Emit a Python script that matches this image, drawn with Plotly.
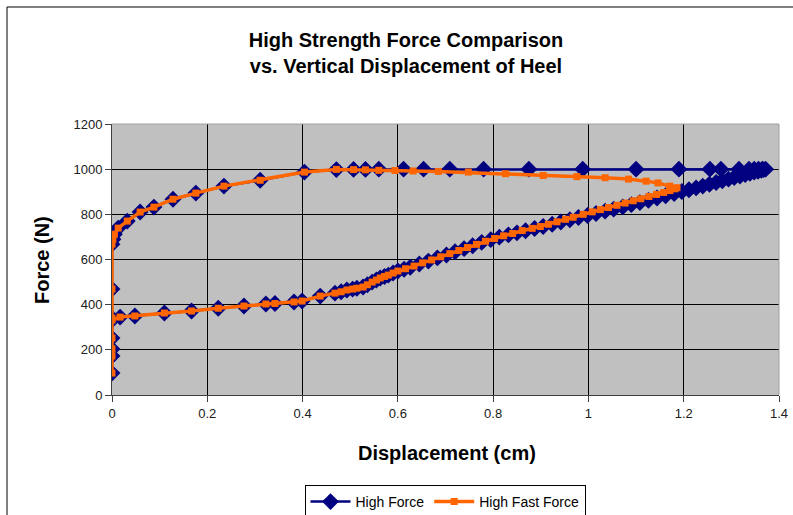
import plotly.graph_objects as go

# ---- Data ----
hf_x = [0, 0, 0, 0, 0,
        0.017, 0.048, 0.11, 0.167, 0.223, 0.277, 0.323, 0.342, 0.382, 0.399,
        0.437, 0.468, 0.481, 0.493, 0.505, 0.514, 0.527, 0.536, 0.546, 0.555,
        0.563, 0.572, 0.58, 0.59, 0.6, 0.613, 0.626, 0.645, 0.664, 0.683,
        0.702, 0.72, 0.739, 0.757, 0.776, 0.795, 0.813, 0.832, 0.85, 0.868,
        0.887, 0.905, 0.924, 0.942, 0.961, 0.979, 0.998, 1.016, 1.035, 1.053,
        1.072, 1.09, 1.108, 1.126, 1.144, 1.162, 1.18, 1.196, 1.211, 1.226,
        1.24, 1.254, 1.268, 1.281, 1.294, 1.306, 1.318, 1.329, 1.339, 1.348,
        1.356, 1.363, 1.368, 1.372,
        1.365, 1.357, 1.348, 1.337, 1.316, 1.278, 1.255, 1.19, 1.1, 0.988,
        0.875, 0.78, 0.709, 0.654, 0.612, 0.56, 0.532, 0.507, 0.471, 0.404,
        0.311, 0.235, 0.176, 0.128, 0.088, 0.059, 0.032, 0.013, 0.005, 0.002,
        0, 0, 0]
hf_y = [97, 173, 204, 252, 332,
        345, 350, 363, 372, 384, 394, 403, 405, 412, 416,
        438, 451, 457, 465, 469, 473, 478, 488, 500, 509,
        518, 525, 531, 540, 549, 557, 566, 580, 593, 607,
        620, 634, 648, 661, 676, 688, 699, 709, 718, 727,
        737, 746, 756, 766, 776, 786, 795, 804, 814, 823,
        833, 843, 852, 862, 872, 882, 892, 901, 909, 917,
        925, 933, 941, 949, 956, 963, 970, 976, 982, 987,
        991, 995, 998, 1000,
        1000, 1000, 1000, 1000, 1000, 1000, 1000, 1000, 1000, 1000,
        1000, 1000, 1000, 1000, 1000, 1000, 999, 999, 998, 987,
        951, 925, 894, 867, 832, 810, 770, 739, 712, 690,
        668, 469, 340]

hff_x = [0, 0, 0, 0, 0,
         0.017, 0.048, 0.11, 0.167, 0.223, 0.277, 0.323, 0.342, 0.382, 0.399,
         0.437, 0.468, 0.481, 0.493, 0.505, 0.514, 0.527, 0.536, 0.546, 0.555,
         0.563, 0.572, 0.58, 0.59, 0.6, 0.616, 0.634, 0.652, 0.671, 0.69,
         0.709, 0.728, 0.746, 0.765, 0.784, 0.803, 0.822, 0.841, 0.861, 0.882,
         0.899, 0.916, 0.934, 0.952, 0.968, 0.989, 1.008, 1.025, 1.042, 1.06,
         1.077, 1.094, 1.11, 1.127, 1.143, 1.158, 1.171, 1.182, 1.186,
         1.171, 1.146, 1.121, 1.084, 1.035, 0.976, 0.905, 0.826, 0.748, 0.685,
         0.632, 0.594, 0.56, 0.532, 0.507, 0.471, 0.404,
         0.311, 0.235, 0.176, 0.128, 0.088, 0.059, 0.032, 0.013, 0.005, 0.002,
         0, 0, 0]
hff_y = [97, 173, 204, 252, 332,
         345, 350, 363, 372, 384, 394, 403, 405, 412, 416,
         438, 451, 457, 465, 469, 473, 478, 488, 500, 509,
         518, 525, 531, 540, 549, 559, 571, 585, 598, 612,
         626, 640, 653, 667, 681, 693, 705, 715, 728, 738,
         746, 756, 767, 778, 787, 800, 811, 821, 830, 840,
         850, 860, 869, 879, 888, 897, 905, 913, 918,
         925, 939, 947, 956, 962, 967, 972, 980, 987, 990,
         992, 994, 995, 997, 998, 999, 987,
         951, 925, 894, 867, 832, 810, 770, 739, 712, 690,
         668, 469, 340]

x_ticks = [0, 0.2, 0.4, 0.6, 0.8, 1.0, 1.2, 1.4]
x_tick_labels = ["0", "0.2", "0.4", "0.6", "0.8", "1", "1.2", "1.4"]
y_ticks = [0, 200, 400, 600, 800, 1000, 1200]

FONT = "Liberation Sans, Arial, sans-serif"
NAVY = "#000080"
ORANGE = "#FF6600"

fig = go.Figure()
fig.add_trace(go.Scatter(
    x=hf_x, y=hf_y, mode="lines+markers", name="High Force",
    line=dict(color=NAVY, width=2.5),
    marker=dict(symbol="diamond", size=13, color=NAVY, line=dict(width=0)),
))
fig.add_trace(go.Scatter(
    x=hff_x, y=hff_y, mode="lines+markers", name="High Fast Force",
    line=dict(color=ORANGE, width=3.5),
    marker=dict(symbol="square", size=7, color=ORANGE, line=dict(width=0)),
))

L, R, T, B = 112, 14, 124, 120
W, H = 793, 515
pw, ph = W - L - R, H - T - B

def px_x(p):
    return (p - L) / pw

def px_y(p):
    return (H - B - p) / ph

fig.update_layout(
    width=W, height=H,
    margin=dict(l=L, r=R, t=T, b=B, pad=0, autoexpand=False),
    paper_bgcolor="white",
    plot_bgcolor="#C0C0C0",
    font=dict(family=FONT, color="black", size=13),
    title=dict(
        text="<b>High Strength Force Comparison</b><br><b>vs. Vertical Displacement of Heel</b>",
        x=406 / W, xanchor="center", xref="container",
        y=1 - 47 / H, yanchor="top", yref="container",
        font=dict(family=FONT, size=20, color="black"),
    ),
    showlegend=True,
    legend=dict(
        orientation="h", x=px_x(445), xanchor="center",
        y=px_y(485), yanchor="top",
        bordercolor="black", borderwidth=1, bgcolor="white",
        font=dict(family=FONT, size=14, color="black"),
        itemwidth=40, tracegroupgap=0,
    ),
    xaxis=dict(
        range=[0, 1.4], tickvals=x_ticks, ticktext=x_tick_labels,
        showgrid=True, gridcolor="black", gridwidth=1,
        zeroline=False, showline=True, linecolor="#404040", linewidth=1,
        ticks="outside", ticklen=6, tickcolor="#404040",
        tickfont=dict(family=FONT, size=13, color="#202020"),
    ),
    yaxis=dict(
        range=[0, 1200], tickvals=y_ticks,
        showgrid=True, gridcolor="black", gridwidth=1,
        zeroline=False, showline=True, linecolor="#404040", linewidth=1,
        ticks="outside", ticklen=6, tickcolor="#404040",
        tickfont=dict(family=FONT, size=13, color="#202020"),
    ),
    annotations=[
        dict(text="<b>Displacement (cm)</b>", xref="paper", yref="paper",
             x=px_x(447), y=px_y(453), xanchor="center", yanchor="middle",
             showarrow=False, font=dict(family=FONT, size=20, color="black")),
        dict(text="<b>Force (N)</b>", xref="paper", yref="paper",
             x=px_x(42), y=px_y(260), xanchor="center", yanchor="middle",
             textangle=-90, showarrow=False,
             font=dict(family=FONT, size=20, color="black")),
    ],
    shapes=[
        # light grey top & right edges of plot area
        dict(type="line", xref="paper", yref="paper", x0=0, x1=1, y0=1, y1=1,
             line=dict(color="#A0A0A0", width=1), layer="above"),
        dict(type="line", xref="paper", yref="paper", x0=1, x1=1, y0=0, y1=1,
             line=dict(color="#A0A0A0", width=1), layer="above"),
        # outer chart frame (top and left visible)
        dict(type="line", xref="paper", yref="paper",
             x0=px_x(7), x1=px_x(800), y0=px_y(7), y1=px_y(7),
             line=dict(color="black", width=1)),
        dict(type="line", xref="paper", yref="paper",
             x0=px_x(7), x1=px_x(7), y0=px_y(7), y1=px_y(530),
             line=dict(color="black", width=1)),
    ],
)

fig.write_html("out.html")
